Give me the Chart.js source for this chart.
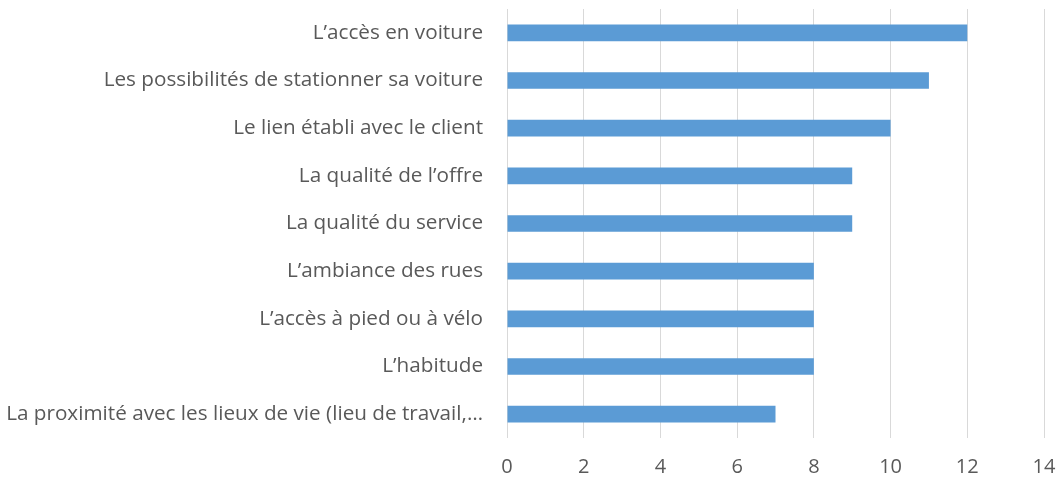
<!DOCTYPE html>
<html>
<head>
<meta charset="utf-8">
<script src="https://cdn.jsdelivr.net/npm/chart.js@4"></script>
<style>
  html, body { margin: 0; padding: 0; background: #ffffff; }
  #wrap { width: 1056px; height: 479px; position: relative; }
</style>
</head>
<body>
<div id="wrap"><canvas id="c" width="1056" height="479"></canvas></div>
<script>
const categories = [
  "L\u2019accès en voiture",
  "Les possibilités de stationner sa voiture",
  "Le lien établi avec le client",
  "La qualité de l\u2019offre",
  "La qualité du service",
  "L\u2019ambiance des rues",
  "L\u2019accès à pied ou à vélo",
  "L\u2019habitude",
  "La proximité avec les lieux de vie (lieu de travail,\u2026"
];
const values = [12, 11, 10, 9, 9, 8, 8, 8, 7];
const xTicks = [0, 2, 4, 6, 8, 10, 12, 14];

const FONT = "'Open Sans', Lato, sans-serif";
const TEXT = "#595959";

new Chart(document.getElementById('c'), {
  type: 'bar',
  data: {
    labels: categories,
    datasets: [{
      data: values,
      backgroundColor: '#5B9BD5',
      borderWidth: 0,
      barPercentage: 0.35,
      categoryPercentage: 1.0
    }]
  },
  options: {
    indexAxis: 'y',
    responsive: false,
    animation: false,
    maintainAspectRatio: false,
    layout: { padding: { top: 9, right: 12, bottom: 0, left: 0 } },
    plugins: { legend: { display: false }, tooltip: { enabled: false } },
    scales: {
      x: {
        min: 0, max: 14,
        afterBuildTicks: (axis) => { axis.ticks = xTicks.map(v => ({ value: v })); },
        afterFit: (axis) => { axis.height = 41; axis.paddingLeft = 0; axis.paddingRight = 0; },
        grid: { color: '#d9d9d9', lineWidth: 1, drawTicks: false },
        border: { display: false },
        ticks: { color: TEXT, font: { family: FONT, size: 20 }, padding: 17 }
      },
      y: {
        afterFit: (axis) => { axis.width = 507; axis.paddingTop = 0; axis.paddingBottom = 0; },
        grid: { display: false, drawTicks: false },
        border: { display: false },
        ticks: { color: TEXT, font: { family: FONT, size: 20.7 }, padding: 24, autoSkip: false }
      }
    }
  }
});
</script>
</body>
</html>
